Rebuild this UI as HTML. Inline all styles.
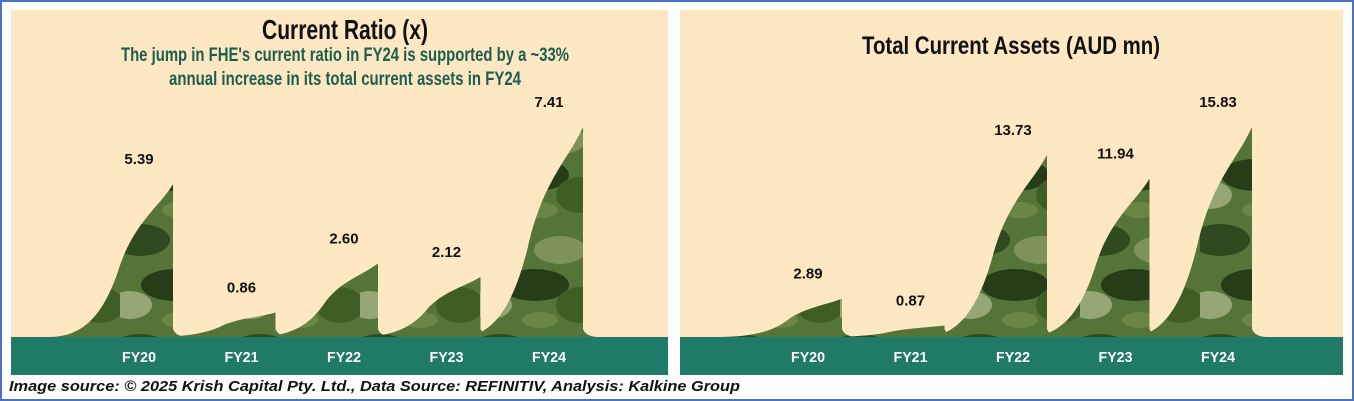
<!DOCTYPE html>
<html><head><meta charset="utf-8"><style>
html,body{margin:0;padding:0;background:#fff;}
body{width:1354px;height:401px;overflow:hidden;position:relative;font-family:"Liberation Sans",sans-serif;}
#frame{position:absolute;left:0;top:0;width:1350px;height:397px;border:2px solid #4a72c4;}
</style></head><body>
<div id="frame"></div>
<svg id="svg" width="1354" height="401" style="position:absolute;left:0;top:0">
<defs>
<pattern id="camo" patternUnits="userSpaceOnUse" width="120" height="110">
<rect width="120" height="110" fill="#55743a"/>
<ellipse cx="20" cy="20" rx="30" ry="16" fill="#2f4a1e"/>
<ellipse cx="80" cy="30" rx="26" ry="14" fill="#7d935a"/>
<ellipse cx="55" cy="65" rx="34" ry="16" fill="#263d18"/>
<ellipse cx="10" cy="85" rx="22" ry="14" fill="#97a676"/>
<ellipse cx="100" cy="85" rx="24" ry="18" fill="#3e5e26"/>
<ellipse cx="60" cy="100" rx="18" ry="8" fill="#6a8545"/>
</pattern>
</defs>
<g id="left"></g><g id="right"></g>
<text x="9" y="391" font-size="15" font-style="italic" font-weight="bold" fill="#111" textLength="731" lengthAdjust="spacingAndGlyphs">Image source: © 2025 Krish Capital Pty. Ltd., Data Source: REFINITIV, Analysis: Kalkine Group</text>
</svg>
<script>
const categories=["FY20","FY21","FY22","FY23","FY24"];
const ratioValues=[5.39,0.86,2.60,2.12,7.41];
const ratioLabels=["5.39","0.86","2.60","2.12","7.41"];
const assetValues=[2.89,0.87,13.73,11.94,15.83];
const assetLabels=["2.89","0.87","13.73","11.94","15.83"];
const NS="http://www.w3.org/2000/svg";
function mk(tag,attrs,parent){const e=document.createElementNS(NS,tag);for(const k in attrs)e.setAttribute(k,attrs[k]);parent.appendChild(e);return e;}
function panel(g,x0,x1,name,titles,vals,labels,maxV){
  const base=337;
  const bg=mk('rect',{x:x0,y:10,width:x1-x0,height:327,fill:'#fde8c3'},g);
  
  
  const band=mk('rect',{x:x0,y:337,width:x1-x0,height:38,fill:'#1f7b66'},g);
  
  
  titles.forEach(t=>{
    const tx=mk('text',{x:t.x,y:t.y,'text-anchor':'middle','font-size':t.s,'font-weight':'bold',fill:t.c,textLength:t.w,lengthAdjust:'spacingAndGlyphs'},g);
    tx.textContent=t.text;
    
    
  });
  const cx=i=>x0+128+i*102.5;
  const yv=v=>base-v*(210/maxV);
  vals.forEach((v,i)=>{
    const c=cx(i),py=yv(v),h=base-py;
    const d=`M${c-90},${base} C${c-55},${base} ${c-35},${base-h*0.15} ${c-20},${base-h*0.45} S${c+20},${base-h*0.85} ${c+34},${py} L${c+34},${base-8} Q${c+37},${base} ${c+50},${base} Z`;
    const p=mk('path',{d:d,fill:'url(#camo)'},g);
    
    
    const lb=mk('text',{x:c,y:py-20,'text-anchor':'middle','font-size':15,'font-weight':'bold',fill:'#111'},g);
    lb.textContent=labels[i];
    
    
    const xl=mk('text',{x:c,y:362,'text-anchor':'middle','font-size':15,'font-weight':'bold',fill:'#fff',textLength:34,lengthAdjust:'spacingAndGlyphs'},g);
    xl.textContent=categories[i];
    
    
  });
}
panel(document.getElementById('left'),11,668,'current-ratio',[
 {text:'Current Ratio (x)',x:345,y:39,s:28,w:166,c:'#111',n:'current-ratio-title'},
 {text:"The jump in FHE's current ratio in FY24 is supported by a ~33%",x:345,y:61,s:19,w:448,c:'#1d5e4c',n:'subtitle-line-1'},
 {text:'annual increase in its total current assets in FY24',x:345,y:85,s:19,w:352,c:'#1d5e4c',n:'subtitle-line-2'}
],ratioValues,ratioLabels,7.41);
panel(document.getElementById('right'),680,1343,'total-current-assets',[
 {text:'Total Current Assets (AUD mn)',x:1011,y:54,s:25,w:298,c:'#111',n:'total-current-assets-title'}
],assetValues,assetLabels,15.83);
</script>
</body></html>
